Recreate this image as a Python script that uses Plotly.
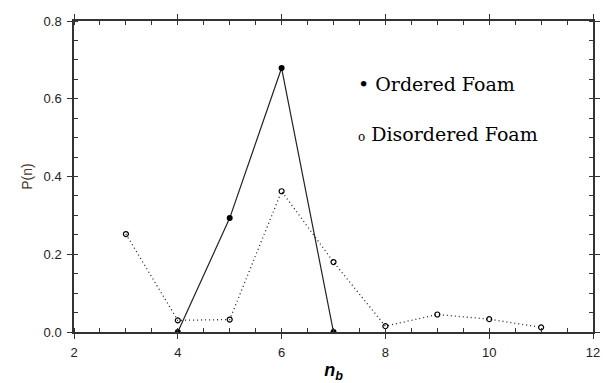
import plotly.graph_objects as go

ordered_n = [4, 5, 6, 7]
ordered_p = [0.0, 0.293, 0.679, 0.0]
disordered_n = [3, 4, 5, 6, 7, 8, 9, 10, 11]
disordered_p = [0.252, 0.030, 0.032, 0.362, 0.180, 0.015, 0.045, 0.033, 0.012]
x_ticks = [2, 4, 6, 8, 10, 12]
y_ticks = [0.0, 0.2, 0.4, 0.6, 0.8]

fig = go.Figure()
fig.add_trace(go.Scatter(
    x=disordered_n, y=disordered_p, mode="lines+markers",
    line=dict(color="#222", width=1.3, dash="1px,3px"),
    marker=dict(symbol="circle-open", size=5, color="black", line=dict(width=1.2)),
    name="Disordered Foam", showlegend=False))
fig.add_trace(go.Scatter(
    x=ordered_n, y=ordered_p, mode="lines+markers",
    line=dict(color="#222", width=1.2),
    marker=dict(symbol="circle", size=6, color="black"),
    name="Ordered Foam", showlegend=False))

axis_common = dict(
    showgrid=False, zeroline=False, showline=True, linecolor="#333", linewidth=1.5,
    mirror="allticks", ticks="outside", ticklen=5, tickcolor="#333",
    ticklabelstandoff=3, automargin=False,
    tickfont=dict(family="Liberation Sans, Arial", size=13, color="#222"),
)
fig.update_xaxes(range=[2, 12], tickvals=x_ticks, ticktext=[str(v) for v in x_ticks],
                 minor=dict(ticks="inside", dtick=0.5, ticklen=4, tickcolor="#333"),
                 title=dict(text="<b><i>n</i></b><sub><b><i>b</i></b></sub>",
                            font=dict(family="Liberation Sans, Arial", size=18, color="black"),
                            standoff=4),
                 **axis_common)
fig.update_yaxes(range=[0, 0.8], tickvals=y_ticks, ticktext=[f"{v:.1f}" for v in y_ticks],
                 minor=dict(ticks="inside", dtick=0.05, ticklen=4, tickcolor="#333"),
                 title=dict(text="P(n)", font=dict(family="Liberation Sans, Arial", size=14, color="#4a3a28"),
                            standoff=8),
                 **axis_common)

legend_font = dict(family="DejaVu Serif, serif", size=19, color="black")
fig.add_annotation(xref="paper", yref="paper", x=0.543, y=0.797, xanchor="left", yanchor="middle",
                   text="<span style='font-size:19px'>•</span> Ordered Foam", showarrow=False,
                   font=legend_font)
fig.add_annotation(xref="paper", yref="paper", x=0.543, y=0.637, xanchor="left", yanchor="middle",
                   text="<span style='font-size:12px'>o</span> Disordered Foam", showarrow=False,
                   font=legend_font)

fig.update_layout(
    width=603, height=383, margin=dict(l=74, r=10, t=21, b=51),
    paper_bgcolor="white", plot_bgcolor="white",
)
fig.write_html("out.html")
